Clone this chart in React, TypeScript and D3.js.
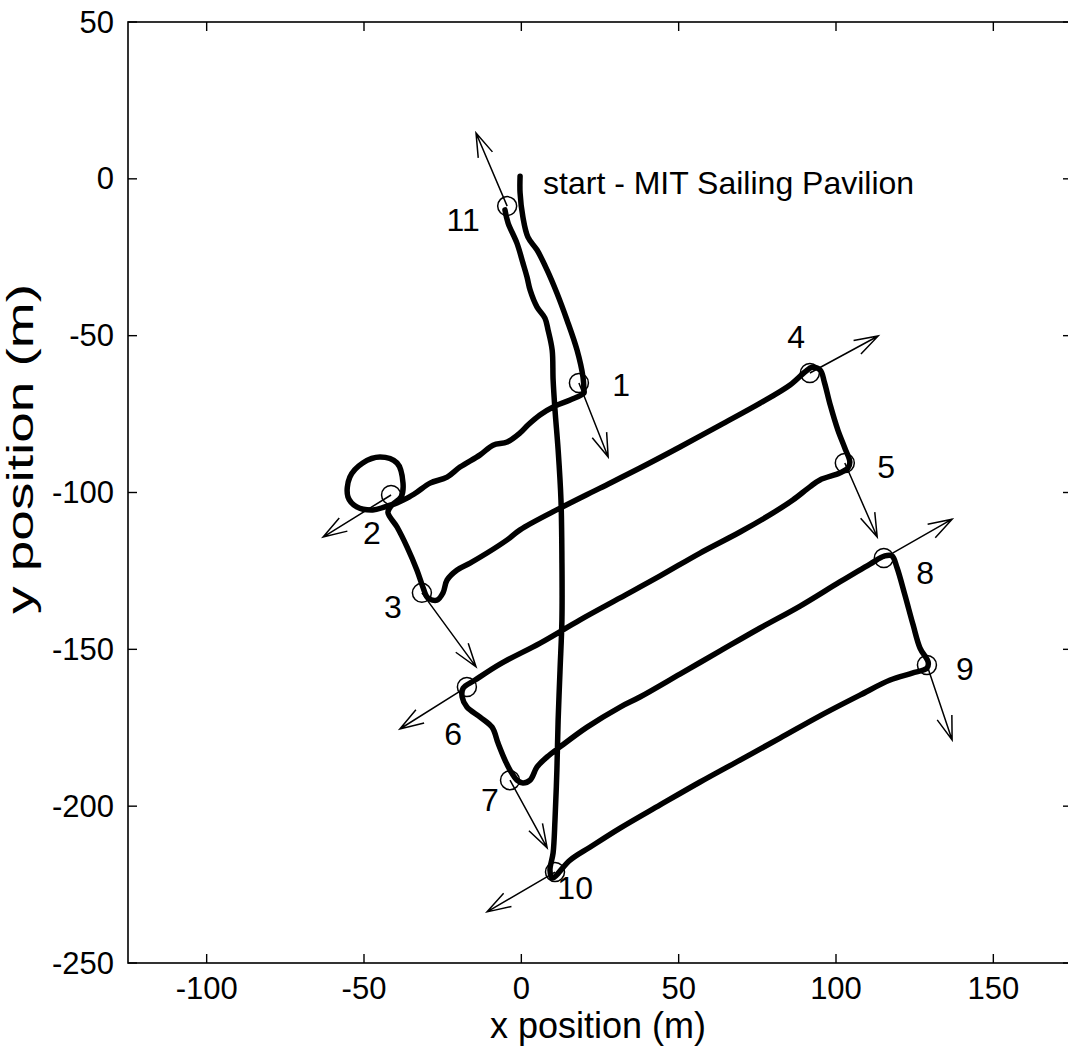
import React from 'react';
import * as d3 from 'd3';

// ---------- data (metres) ----------
const xTicks = [-100, -50, 0, 50, 100, 150];
const yTicks = [50, 0, -50, -100, -150, -200, -250];

// track legs, [x, y] in metres
const legStartTo1: [number, number][] = [
  [-0.4, 0.8], [-0.4, -4.5], [0.5, -12.2], [2.1, -18.6], [5.0, -22.7], [8.2, -29.1],
  [11.3, -36.4], [14.5, -45.0], [17.7, -54.6], [19.6, -63.2], [19.9, -67.3],
];
const leg1To3: [number, number][] = [
  [19.9, -68.3], [15.5, -70.5], [10.7, -72.4], [5.9, -75.3], [2.1, -78.5], [-0.4, -81.0],
  [-4.5, -83.9], [-9.0, -84.9], [-13.1, -88.0], [-19.5, -91.9], [-23.6, -95.1], [-29.0, -97.0],
  [-33.2, -99.9], [-36.3, -101.8], [-39.5, -103.3], [-43.4, -104.6], [-47.2, -105.6],
  [-52.3, -104.6], [-55.1, -101.4], [-54.5, -95.1], [-50.4, -90.6], [-44.9, -88.7],
  [-39.5, -90.6], [-37.6, -97.0], [-38.2, -101.4], [-41.1, -104.0], [-42.4, -106.3],
  [-39.5, -111.0], [-36.3, -117.4], [-33.2, -124.7], [-31.3, -130.1], [-29.7, -133.6],
  [-26.8, -134.3], [-24.9, -132.0], [-23.6, -127.9], [-20.4, -124.7], [-16.3, -122.5],
  [-10.9, -119.3], [-4.5, -115.1], [-0.4, -111.9],
];
const leg3To5: [number, number][] = [
  [12.3, -105.0], [25.0, -98.6], [37.7, -92.2], [50.4, -85.5], [63.2, -78.5], [75.9, -71.5],
  [85.4, -65.7], [90.1, -61.6], [92.4, -60.1], [95.0, -61.0], [96.3, -64.8], [98.2, -72.2],
  [100.6, -80.1], [102.8, -85.8], [104.4, -90.3], [103.8, -92.2],
];
const leg5To7: [number, number][] = [
  [101.2, -93.8], [94.9, -96.0], [91.7, -98.2], [86.3, -102.4], [80.0, -106.5], [69.5, -112.6],
  [56.8, -119.3], [44.1, -126.6], [31.4, -133.6], [18.7, -140.6], [6.0, -148.0], [-6.8, -154.7],
  [-14.7, -159.8], [-18.5, -162.4], [-18.8, -165.2], [-17.3, -168.4], [-13.1, -171.6],
  [-9.3, -174.8], [-7.4, -179.9], [-5.2, -185.3], [-3.6, -188.5], [-1.4, -191.7], [0.5, -192.6],
  [2.8, -191.7], [5.0, -187.5], [8.2, -184.3], [12.3, -181.1], [20.9, -174.8], [31.4, -168.4],
  [37.7, -165.2],
];
const leg7To9: [number, number][] = [
  [50.4, -157.9], [63.2, -150.5], [75.9, -143.2], [88.6, -136.2], [101.2, -128.5],
  [110.8, -122.8], [115.5, -120.2], [117.8, -120.2], [119.4, -124.0], [121.9, -132.7],
  [124.5, -142.2], [126.7, -149.6], [129.3, -154.1], [128.9, -156.0],
];
const leg9To11: [number, number][] = [
  [124.2, -157.6], [117.2, -159.8], [107.6, -164.6], [94.9, -171.2], [82.2, -178.3],
  [69.5, -185.3], [56.8, -192.3], [44.1, -199.6], [31.4, -207.0], [21.8, -213.1],
  [15.5, -217.2], [9.8, -222.9], [9.1, -220.4], [10.1, -214.9], [10.7, -204.4], [11.3, -188.5],
  [11.7, -172.5], [12.3, -156.6], [12.9, -140.6], [12.9, -121.5], [12.6, -102.4], [11.7, -86.5],
  [10.7, -73.7], [10.1, -64.1], [9.8, -54.6], [8.5, -48.2], [7.5, -44.4], [5.0, -40.9],
  [2.8, -35.5], [1.8, -31.3], [0.5, -26.8], [-1.4, -20.5], [-4.2, -14.1], [-5.2, -9.9],
];

// waypoint markers
const markerNames = ['1', '2', '3', '4', '5', '6', '7', '8', '9', '10', '11'];
const markerX = [18.3, -41.4, -31.6, 91.7, 102.8, -17.3, -3.6, 115.2, 128.9, 10.7, -4.5];
const markerY = [-65.1, -100.8, -132.0, -61.9, -90.6, -162.0, -191.7, -120.9, -155.0, -221.0, -8.7];
const arrowTipX = [27.6, -63.0, -14.4, 113.4, 113.1, -38.6, 8.2, 136.9, 136.9, -10.9, -14.4];
const arrowTipY = [-88.7, -114.2, -155.6, -50.1, -114.2, -175.4, -213.3, -108.5, -178.9, -233.7, 14.6];
const labelX = [31.7, -47.5, -40.8, 87.3, 115.9, -21.7, -10.0, 128.3, 141.0, 17.1, -18.5];
const labelY = [-65.7, -113.0, -136.5, -50.4, -91.9, -177.0, -198.0, -125.6, -156.3, -226.1, -13.1];

const startText = 'start - MIT Sailing Pavilion';
const startTextPos: [number, number] = [6.9, -1.4];

const FONT = "'Liberation Sans', Arial, Helvetica, sans-serif";

export default function App() {
  const W = 1068;
  const H = 1047;
  const x = d3.scaleLinear().domain([-125, 175]).range([128, 1072]);
  const y = d3.scaleLinear().domain([50, -250]).range([22, 963]);
  const [x0, x1] = x.range();
  const [y0, y1] = y.range();

  const track = [...legStartTo1, ...leg1To3, ...leg3To5, ...leg5To7, ...leg7To9, ...leg9To11];
  const line = d3
    .line<[number, number]>()
    .x((d) => x(d[0]))
    .y((d) => y(d[1]))
    .curve(d3.curveCatmullRom.alpha(0.5));

  const fs = 31;
  const annFs = 32;
  const labFs = 36;
  const tickLen = 9;

  const arrows = markerNames.map((_, i) => {
    const sx = x(markerX[i]);
    const sy = y(markerY[i]);
    const tx = x(arrowTipX[i]);
    const ty = y(arrowTipY[i]);
    const ang = Math.atan2(sy - ty, sx - tx);
    const L = 25;
    const a = (18 * Math.PI) / 180;
    const b1 = [tx + L * Math.cos(ang + a), ty + L * Math.sin(ang + a)];
    const b2 = [tx + L * Math.cos(ang - a), ty + L * Math.sin(ang - a)];
    return `M${sx},${sy}L${tx},${ty}M${b1[0]},${b1[1]}L${tx},${ty}L${b2[0]},${b2[1]}`;
  });

  return (
    <svg
      width={W}
      height={H}
      style={{ position: 'absolute', left: 0, top: 0, background: '#fff' }}
      fontFamily={FONT}
    >
      <rect x={0} y={0} width={W} height={H} fill="#fff" />
      {/* frame */}
      <rect x={x0} y={y0} width={x1 - x0} height={y1 - y0} fill="none" stroke="#000" strokeWidth={1.6} />
      {xTicks.map((t) => (
        <g key={'xt' + t}>
          <line x1={x(t)} x2={x(t)} y1={y1} y2={y1 - tickLen} stroke="#000" strokeWidth={1.4} />
          <line x1={x(t)} x2={x(t)} y1={y0} y2={y0 + tickLen} stroke="#000" strokeWidth={1.4} />
          <text x={x(t)} y={y1 + 36} textAnchor="middle" fontSize={fs} fill="#000">
            {String(t)}
          </text>
        </g>
      ))}
      {yTicks.map((t) => (
        <g key={'yt' + t}>
          <line x1={x0} x2={x0 + tickLen} y1={y(t)} y2={y(t)} stroke="#000" strokeWidth={1.4} />
          <line x1={x1} x2={x1 - tickLen} y1={y(t)} y2={y(t)} stroke="#000" strokeWidth={1.4} />
          <text x={x0 - 14} y={y(t)} textAnchor="end" dominantBaseline="central" fontSize={fs} fill="#000">
            {String(t)}
          </text>
        </g>
      ))}
      <text x={(x0 + 1068) / 2} y={1038} textAnchor="middle" fontSize={labFs} fill="#000">
        x position (m)
      </text>
      <text
        transform="translate(33,614) rotate(-90)"
        textAnchor="start"
        fontSize={37}
        textLength={330}
        lengthAdjust="spacingAndGlyphs"
        fill="#000"
      >
        y position (m)
      </text>

      {/* track */}
      <path d={line(track) || ''} fill="none" stroke="#000" strokeWidth={5.5} strokeLinejoin="round" strokeLinecap="round" />

      {/* arrows */}
      {arrows.map((d, i) => (
        <path key={'a' + i} d={d} fill="none" stroke="#000" strokeWidth={1.5} />
      ))}
      {/* markers */}
      {markerNames.map((n, i) => (
        <circle key={'m' + n} cx={x(markerX[i])} cy={y(markerY[i])} r={9.5} fill="none" stroke="#000" strokeWidth={1.5} />
      ))}
      {markerNames.map((n, i) => (
        <text
          key={'l' + n}
          x={x(labelX[i])}
          y={y(labelY[i])}
          textAnchor="middle"
          dominantBaseline="central"
          fontSize={annFs}
          fill="#000"
        >
          {n}
        </text>
      ))}
      <text x={x(startTextPos[0])} y={y(startTextPos[1])} dominantBaseline="central" fontSize={annFs} fill="#000">
        {startText}
      </text>
    </svg>
  );
}
